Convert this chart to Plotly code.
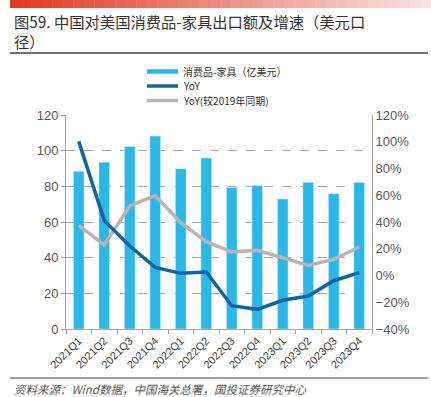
import plotly.graph_objects as go
import numpy as np

categories = ["2021Q1", "2021Q2", "2021Q3", "2021Q4", "2022Q1", "2022Q2",
              "2022Q3", "2022Q4", "2023Q1", "2023Q2", "2023Q3", "2023Q4"]
export_value = [88.4, 93.5, 102.3, 108.2, 89.9, 95.9, 79.3, 80.4, 72.9, 82.1, 75.9, 82.1]
yoy = [100.3, 41.0, 22.0, 6.1, 1.6, 2.6, -22.6, -25.3, -18.5, -15.3, -3.9, 2.1]
yoy_vs_2019 = [37.5, 22.8, 52.0, 59.7, 39.5, 25.3, 17.6, 18.8, 13.3, 7.6, 12.1, 21.3]

legend_names = ["消费品-家具（亿美元）", "YoY", "YoY(较2019年同期)"]
title_text = "图59. 中国对美国消费品-家具出口额及增速（美元口<br>径）"
source_text = "资料来源：Wind数据，中国海关总署，国投证券研究中心"

BAR = "#29b8e8"
DARK = "#0f64a8"
GRAY = "#bab4b4"
FONT = "Liberation Sans, Arial, sans-serif"
CJK = "Noto Sans CJK SC"

fig = go.Figure()
fig.add_trace(go.Bar(x=categories, y=export_value, marker_color=BAR, width=0.42,
                     name=legend_names[0], showlegend=False))
fig.add_trace(go.Scatter(x=categories, y=yoy_vs_2019, mode="lines", yaxis="y2",
                         line=dict(color=GRAY, width=3.5), name=legend_names[2], showlegend=False))
fig.add_trace(go.Scatter(x=categories, y=yoy, mode="lines", yaxis="y2",
                         line=dict(color=DARK, width=3.5), name=legend_names[1], showlegend=False))

W, H = 431, 397
L, R, T, B = 66, 372, 115, 329
ml, mr, mt, mb = L, W - R, T, H - B

def px(x):
    return (x - L) / (R - L)

def py(y):
    return (B - y) / (B - T)

shapes = []
annotations = []

# top gradient bar (approximated with segments)
n = 40
x0, x1 = 10, 431
c0 = np.array([224, 58, 30])
c1 = np.array([250, 225, 225])
for i in range(n):
    t = i / (n - 1)
    c = (c0 * (1 - t) + c1 * t).astype(int)
    shapes.append(dict(type="rect", xref="paper", yref="paper",
                       x0=px(x0 + (x1 - x0) * i / n), x1=px(x0 + (x1 - x0) * (i + 1) / n + 0.5),
                       y0=py(8), y1=py(0), line=dict(width=0),
                       fillcolor=f"rgb({c[0]},{c[1]},{c[2]})", layer="below"))

# title underline and source line
shapes.append(dict(type="line", xref="paper", yref="paper", x0=px(10), x1=px(428),
                   y0=py(53), y1=py(53), line=dict(color="#404040", width=1.5)))
shapes.append(dict(type="line", xref="paper", yref="paper", x0=px(10), x1=px(428),
                   y0=py(378), y1=py(378), line=dict(color="#404040", width=1.2)))

annotations.append(dict(text=title_text, xref="paper", yref="paper", x=px(12), y=py(8),
                        xanchor="left", yanchor="top", align="left", showarrow=False,
                        font=dict(family=CJK, size=15.3, color="#333333")))
annotations.append(dict(text="<i>" + source_text + "</i>", xref="paper", yref="paper",
                        x=px(12), y=py(389), xanchor="left", yanchor="middle", showarrow=False,
                        font=dict(family=CJK, size=11.5, color="#555555")))

# manual legend
leg_rows = [(71.5, BAR, 4.5), (86, DARK, 3.5), (100.5, GRAY, 3.5)]
for (yy, col, w), name in zip(leg_rows, legend_names):
    shapes.append(dict(type="line", xref="paper", yref="paper", x0=px(147), x1=px(178),
                       y0=py(yy), y1=py(yy), line=dict(color=col, width=w)))
    annotations.append(dict(text=name, xref="paper", yref="paper", x=px(181), y=py(yy),
                            xanchor="left", yanchor="middle", showarrow=False,
                            font=dict(family=CJK, size=10, color="#333333")))

fig.update_layout(
    width=W, height=H,
    margin=dict(l=ml, r=mr, t=mt, b=mb, pad=0),
    plot_bgcolor="white", paper_bgcolor="white",
    showlegend=False,
    font=dict(family=FONT, size=12, color="#595959"),
    xaxis=dict(type="category", tickson="boundaries", ticks="outside", ticklen=4,
               tickcolor="#a6a6a6", showline=True, linecolor="#a6a6a6", linewidth=1,
               tickangle=-45, tickfont=dict(size=11, color="#404040"), showgrid=False),
    yaxis=dict(range=[0, 120], dtick=20, showgrid=True, gridcolor="#a6a6a6",
               griddash="dash", gridwidth=1, showline=True, linecolor="#a6a6a6",
               ticks="outside", ticklen=4, tickcolor="#a6a6a6", zeroline=False,
               tickfont=dict(size=13, color="#595959")),
    yaxis2=dict(range=[-40, 120], dtick=20, overlaying="y", side="right",
                showgrid=False, showline=True, linecolor="#a6a6a6", ticksuffix="%",
                zeroline=False, tickfont=dict(size=13, color="#595959")),
    shapes=shapes,
    annotations=annotations,
)

fig.write_html("out.html", config={"displayModeBar": False},
               post_script="document.body.style.margin='0';")
